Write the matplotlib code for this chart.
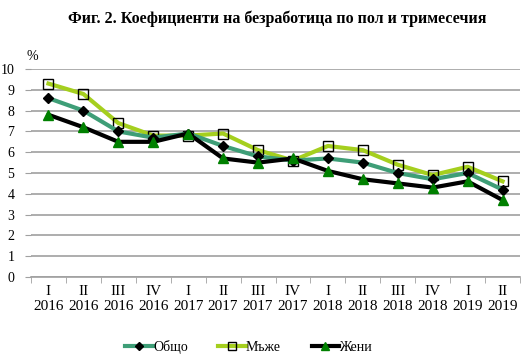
import matplotlib.pyplot as plt

plt.rcParams['font.family'] = ['Liberation Serif', 'DejaVu Serif']

quarters = ['I\n2016', 'II\n2016', 'III\n2016', 'IV\n2016',
            'I\n2017', 'II\n2017', 'III\n2017', 'IV\n2017',
            'I\n2018', 'II\n2018', 'III\n2018', 'IV\n2018',
            'I\n2019', 'II\n2019']
total = [8.6, 8.0, 7.0, 6.7, 6.9, 6.3, 5.8, 5.6, 5.7, 5.5, 5.0, 4.7, 5.0, 4.2]
men = [9.3, 8.8, 7.4, 6.8, 6.8, 6.9, 6.1, 5.6, 6.3, 6.1, 5.4, 4.9, 5.3, 4.6]
women = [7.8, 7.2, 6.5, 6.5, 6.9, 5.7, 5.5, 5.7, 5.1, 4.7, 4.5, 4.3, 4.6, 3.7]

fig = plt.figure(figsize=(5.29, 3.54), dpi=100)
ax = fig.add_axes([0.0586, 0.2175, 0.9244, 0.5875])

x = list(range(len(quarters)))
ax.plot(x, total, color='#3e9e77', lw=3, marker='D', ms=5,
        mfc='black', mec='black', label='Общо', zorder=3)
ax.plot(x, men, color='#a5cf1e', lw=3, marker='s', ms=7,
        mfc='none', mec='black', mew=1, label='Мъже', zorder=2)
ax.plot(x, women, color='black', lw=3, marker='^', ms=7,
        mfc='#008000', mec='#008000', label='Жени', zorder=4)

ax.set_xlim(-0.5, len(quarters) - 0.5)
ax.set_ylim(0, 10)
ax.set_yticks(range(0, 11))
ax.set_xticks(x)
ax.set_xticklabels(quarters, fontsize=11, linespacing=1.2)
ax.set_xticks([i - 0.5 for i in range(len(quarters) + 1)], minor=True)
ax.tick_params(axis='x', which='major', length=0, pad=6)
ax.tick_params(axis='x', which='minor', length=4, color='#a0a0a0')
ax.tick_params(axis='y', length=4, color='#a0a0a0', labelsize=10, pad=8)
ax.grid(axis='y', color='#a0a0a0', lw=1.2)
ax.set_axisbelow(True)
for s in ['top', 'right', 'left']:
    ax.spines[s].set_visible(False)
ax.spines['bottom'].set_color('#a0a0a0')
ax.spines['bottom'].set_linewidth(1.2)

fig.text(0.05, 0.83, '%', fontsize=10)
fig.text(0.525, 0.935, 'Фиг. 2. Коефициенти на безработица по пол и тримесечия',
         ha='center', fontsize=11.5, fontweight='bold')

fig.legend(loc='lower center', bbox_to_anchor=(0.47, -0.035), ncol=3,
           frameon=False, fontsize=10, handlelength=2.0, handletextpad=0,
           columnspacing=2.2, markerscale=0.75)

fig.savefig('out.png', dpi=100)
